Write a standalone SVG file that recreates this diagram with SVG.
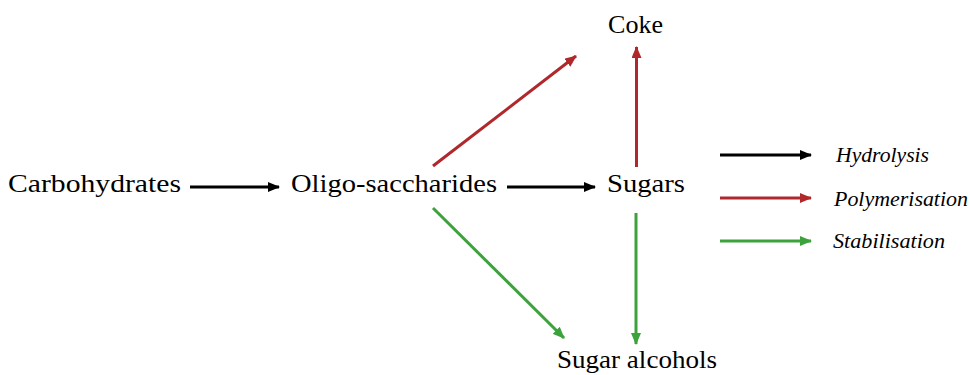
<svg xmlns="http://www.w3.org/2000/svg" width="970" height="375" viewBox="0 0 970 375">
<defs>
<style>
.t{font-family:"Liberation Serif","Times New Roman",serif;font-size:26px;fill:#000}
.l{font-family:"Liberation Serif","Times New Roman",serif;font-size:20px;font-style:italic;fill:#000}
.k{stroke:#000;stroke-width:3;fill:none}
.r{stroke:#b0282c;stroke-width:3;fill:none}
.g{stroke:#3ca23c;stroke-width:3;fill:none}
</style>
<marker id="mk" viewBox="0 0 12 10" refX="11" refY="5" markerUnits="userSpaceOnUse" markerWidth="12" markerHeight="10" orient="auto"><path d="M0,0L12,5L0,10z" fill="#000"/></marker>
<marker id="mr" viewBox="0 0 12 10" refX="11" refY="5" markerUnits="userSpaceOnUse" markerWidth="12" markerHeight="10" orient="auto"><path d="M0,0L12,5L0,10z" fill="#b0282c"/></marker>
<marker id="mg" viewBox="0 0 12 10" refX="11" refY="5" markerUnits="userSpaceOnUse" markerWidth="12" markerHeight="10" orient="auto"><path d="M0,0L12,5L0,10z" fill="#3ca23c"/></marker>
</defs>
<rect width="970" height="375" fill="#fff"/>
<g id="carbohydrates"><text class="t" x="8" y="192" textLength="173" lengthAdjust="spacingAndGlyphs">Carbohydrates</text></g>
<g id="oligo"><text class="t" x="291" y="192" textLength="206" lengthAdjust="spacingAndGlyphs">Oligo-saccharides</text></g>
<g id="sugars"><text class="t" x="607" y="192" textLength="78" lengthAdjust="spacingAndGlyphs">Sugars</text></g>
<g id="coke"><text class="t" x="608" y="33" textLength="55" lengthAdjust="spacingAndGlyphs">Coke</text></g>
<g id="sugar-alcohols"><text class="t" x="557" y="368" textLength="160" lengthAdjust="spacingAndGlyphs">Sugar alcohols</text></g>
<g id="connectors">
<line class="k" x1="190" y1="187" x2="279" y2="187" marker-end="url(#mk)"/>
<line class="k" x1="507" y1="187" x2="595" y2="187" marker-end="url(#mk)"/>
<line class="r" x1="433" y1="166" x2="576" y2="56" marker-end="url(#mr)"/>
<line class="r" x1="636.5" y1="167" x2="636.5" y2="47" marker-end="url(#mr)"/>
<line class="g" x1="433" y1="208" x2="564" y2="338" marker-end="url(#mg)"/>
<line class="g" x1="636" y1="213" x2="636" y2="344" marker-end="url(#mg)"/>
</g>
<g id="legend">
<line class="k" x1="720" y1="155" x2="811" y2="155" marker-end="url(#mk)"/>
<line class="r" x1="720" y1="198" x2="811" y2="198" marker-end="url(#mr)"/>
<line class="g" x1="720" y1="241" x2="811" y2="241" marker-end="url(#mg)"/>
<text class="l" x="836" y="162" textLength="93" lengthAdjust="spacingAndGlyphs">Hydrolysis</text>
<text class="l" x="834" y="206" textLength="134" lengthAdjust="spacingAndGlyphs">Polymerisation</text>
<text class="l" x="833" y="248" textLength="112" lengthAdjust="spacingAndGlyphs">Stabilisation</text>
</g>
</svg>
